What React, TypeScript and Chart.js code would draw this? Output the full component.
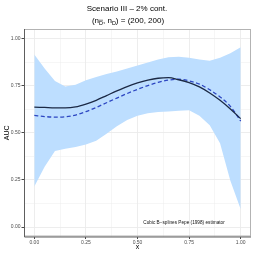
import React, { useEffect, useRef } from "react";
import { Chart, registerables } from "chart.js";

Chart.register(...registerables);

const xs = [0, 0.05, 0.1, 0.15, 0.2, 0.25, 0.3, 0.35, 0.4, 0.45, 0.5, 0.55, 0.6, 0.65, 0.7, 0.75, 0.8, 0.85, 0.9, 0.95, 1.0];
const fitSolid = [0.636, 0.634, 0.632, 0.632, 0.637, 0.652, 0.672, 0.697, 0.722, 0.745, 0.764, 0.779, 0.789, 0.792, 0.781, 0.766, 0.743, 0.711, 0.672, 0.626, 0.575];
const fitDashed = [0.592, 0.586, 0.583, 0.585, 0.594, 0.612, 0.634, 0.659, 0.684, 0.708, 0.73, 0.75, 0.767, 0.779, 0.784, 0.775, 0.758, 0.728, 0.69, 0.64, 0.562];
const bandUpper = [0.915, 0.84, 0.775, 0.745, 0.755, 0.778, 0.795, 0.812, 0.825, 0.84, 0.856, 0.872, 0.888, 0.9, 0.903, 0.897, 0.888, 0.882, 0.898, 0.922, 0.953];
const bandLower = [0.215, 0.32, 0.403, 0.415, 0.425, 0.438, 0.458, 0.495, 0.535, 0.568, 0.59, 0.603, 0.61, 0.613, 0.616, 0.619, 0.59, 0.54, 0.444, 0.245, 0.095];
const majorTicks = [0, 0.25, 0.5, 0.75, 1];
const minorTicks = [0.125, 0.375, 0.625, 0.875];
const titleText = "Scenario III \u2013 2% cont.";
const annotationText = "Cubic B\u2212splines Pepe (1998) estimator";
const xTitle = "x";
const yTitle = "AUC";

const FONT = "'Liberation Sans', Arial, sans-serif";

const isMajor = (v: number) => majorTicks.some((m) => Math.abs(m - v) < 1e-9);

const pts = (ys: number[]) => xs.map((x, i) => ({ x, y: ys[i] }));

const allTicks = () =>
  [...majorTicks, ...minorTicks].sort((a, b) => a - b).map((v) => ({ value: v }));

const decorPlugin = {
  id: "decor",
  afterDraw(chart: any) {
    const ctx = chart.ctx as CanvasRenderingContext2D;
    const ca = chart.chartArea;
    ctx.save();
    // panel border
    ctx.strokeStyle = "#b3b3b3";
    ctx.lineWidth = 1;
    ctx.strokeRect(ca.left + 0.5, ca.top + 0.5, ca.right - ca.left - 1, ca.bottom - ca.top - 1);
    ctx.strokeStyle = "#5e5e5e";
    ctx.beginPath();
    ctx.moveTo(ca.left + 0.5, ca.top);
    ctx.lineTo(ca.left + 0.5, ca.bottom + 0.5);
    ctx.lineTo(ca.right, ca.bottom + 0.5);
    ctx.stroke();

    // title
    ctx.fillStyle = "#000";
    ctx.textAlign = "center";
    ctx.textBaseline = "middle";
    ctx.font = `8px ${FONT}`;
    ctx.fillText(titleText, 127, 9);

    // subtitle with subscripts
    const main = `8px ${FONT}`;
    const sub = `5.5px ${FONT}`;
    const parts: { t: string; f: string; sub: boolean; bar: boolean }[] = [
      { t: "(n", f: main, sub: false, bar: false },
      { t: "D", f: sub, sub: true, bar: true },
      { t: ", n", f: main, sub: false, bar: false },
      { t: "D", f: sub, sub: true, bar: false },
      { t: ") = (200, 200)", f: main, sub: false, bar: false },
    ];
    let total = 0;
    for (const p of parts) {
      ctx.font = p.f;
      total += ctx.measureText(p.t).width;
    }
    let cx = 128 - total / 2;
    ctx.textAlign = "left";
    ctx.textBaseline = "alphabetic";
    const base = 23;
    for (const p of parts) {
      ctx.font = p.f;
      const w = ctx.measureText(p.t).width;
      const y = p.sub ? base + 1.8 : base;
      ctx.fillText(p.t, cx, y);
      if (p.bar) {
        ctx.strokeStyle = "#000";
        ctx.lineWidth = 0.5;
        ctx.beginPath();
        ctx.moveTo(cx, y - 4.6);
        ctx.lineTo(cx + w, y - 4.6);
        ctx.stroke();
      }
      cx += w;
    }

    // axis titles
    ctx.font = `7px ${FONT}`;
    ctx.textAlign = "center";
    ctx.textBaseline = "middle";
    ctx.fillText(xTitle, (ca.left + ca.right) / 2, 247.5);
    ctx.save();
    ctx.translate(7.5, (ca.top + ca.bottom) / 2);
    ctx.rotate(-Math.PI / 2);
    ctx.fillText(yTitle, 0, 0);
    ctx.restore();

    // annotation
    ctx.font = `4.7px ${FONT}`;
    ctx.fillStyle = "#111";
    ctx.fillText(annotationText, 184, 223);
    ctx.restore();
  },
};

export default function App() {
  const ref = useRef<HTMLCanvasElement | null>(null);
  useEffect(() => {
    document.body.style.margin = "0";
    const canvas = ref.current!;
    const gridColor = (c: any) => "#ebebeb";
    const gridWidth = (c: any) => (c.tick && isMajor(c.tick.value) ? 0.9 : 0.45);
    const tickColor = (c: any) => (c.tick && isMajor(c.tick.value) ? "#333333" : "rgba(0,0,0,0)");
    const chart = new Chart(canvas, {
      type: "line",
      data: {
        datasets: [
          {
            label: "solid",
            data: pts(fitSolid),
            borderColor: "#1b2945",
            borderWidth: 1.3,
            pointRadius: 0,
            cubicInterpolationMode: "monotone",
            fill: false,
            order: 0,
          },
          {
            label: "dashed",
            data: pts(fitDashed),
            borderColor: "#2c46c2",
            borderWidth: 1.3,
            borderDash: [4, 2.5],
            pointRadius: 0,
            cubicInterpolationMode: "monotone",
            fill: false,
            order: 0,
          },
          {
            label: "upper",
            data: pts(bandUpper),
            borderWidth: 0,
            borderColor: "rgba(0,0,0,0)",
            backgroundColor: "rgb(189,222,255)",
            pointRadius: 0,
            fill: "+1",
            order: 2,
          },
          {
            label: "lower",
            data: pts(bandLower),
            borderWidth: 0,
            borderColor: "rgba(0,0,0,0)",
            pointRadius: 0,
            fill: false,
            order: 2,
          },
        ],
      },
      options: {
        animation: false,
        responsive: false,
        maintainAspectRatio: false,
        layout: { padding: { top: 29, right: 3, left: 0, bottom: 0 } },
        plugins: { legend: { display: false }, tooltip: { enabled: false }, title: { display: false } },
        scales: {
          x: {
            type: "linear",
            min: -0.05,
            max: 1.05,
            afterBuildTicks: (s: any) => {
              s.ticks = allTicks();
            },
            afterFit: (s: any) => {
              s.height = 17.5;
            },
            border: { display: false },
            grid: { color: gridColor, lineWidth: gridWidth, tickColor, tickLength: 2.5, drawTicks: true },
            ticks: {
              autoSkip: false,
              maxRotation: 0,
              padding: 1,
              color: "#4d4d4d",
              font: { family: FONT, size: 5 },
              callback: (v: any) => (isMajor(Number(v)) ? Number(v).toFixed(2) : ""),
            },
          },
          y: {
            type: "linear",
            min: -0.05,
            max: 1.05,
            afterBuildTicks: (s: any) => {
              s.ticks = allTicks();
            },
            afterFit: (s: any) => {
              s.width = 24;
            },
            border: { display: false },
            grid: { color: gridColor, lineWidth: gridWidth, tickColor, tickLength: 2.5, drawTicks: true },
            ticks: {
              autoSkip: false,
              padding: 1,
              color: "#4d4d4d",
              font: { family: FONT, size: 5 },
              callback: (v: any) => (isMajor(Number(v)) ? Number(v).toFixed(2) : ""),
            },
          },
        },
      } as any,
      plugins: [decorPlugin],
    });
    return () => chart.destroy();
  }, []);
  return <canvas ref={ref} width={254} height={254} style={{ display: "block", width: 254, height: 254 }} />;
}
